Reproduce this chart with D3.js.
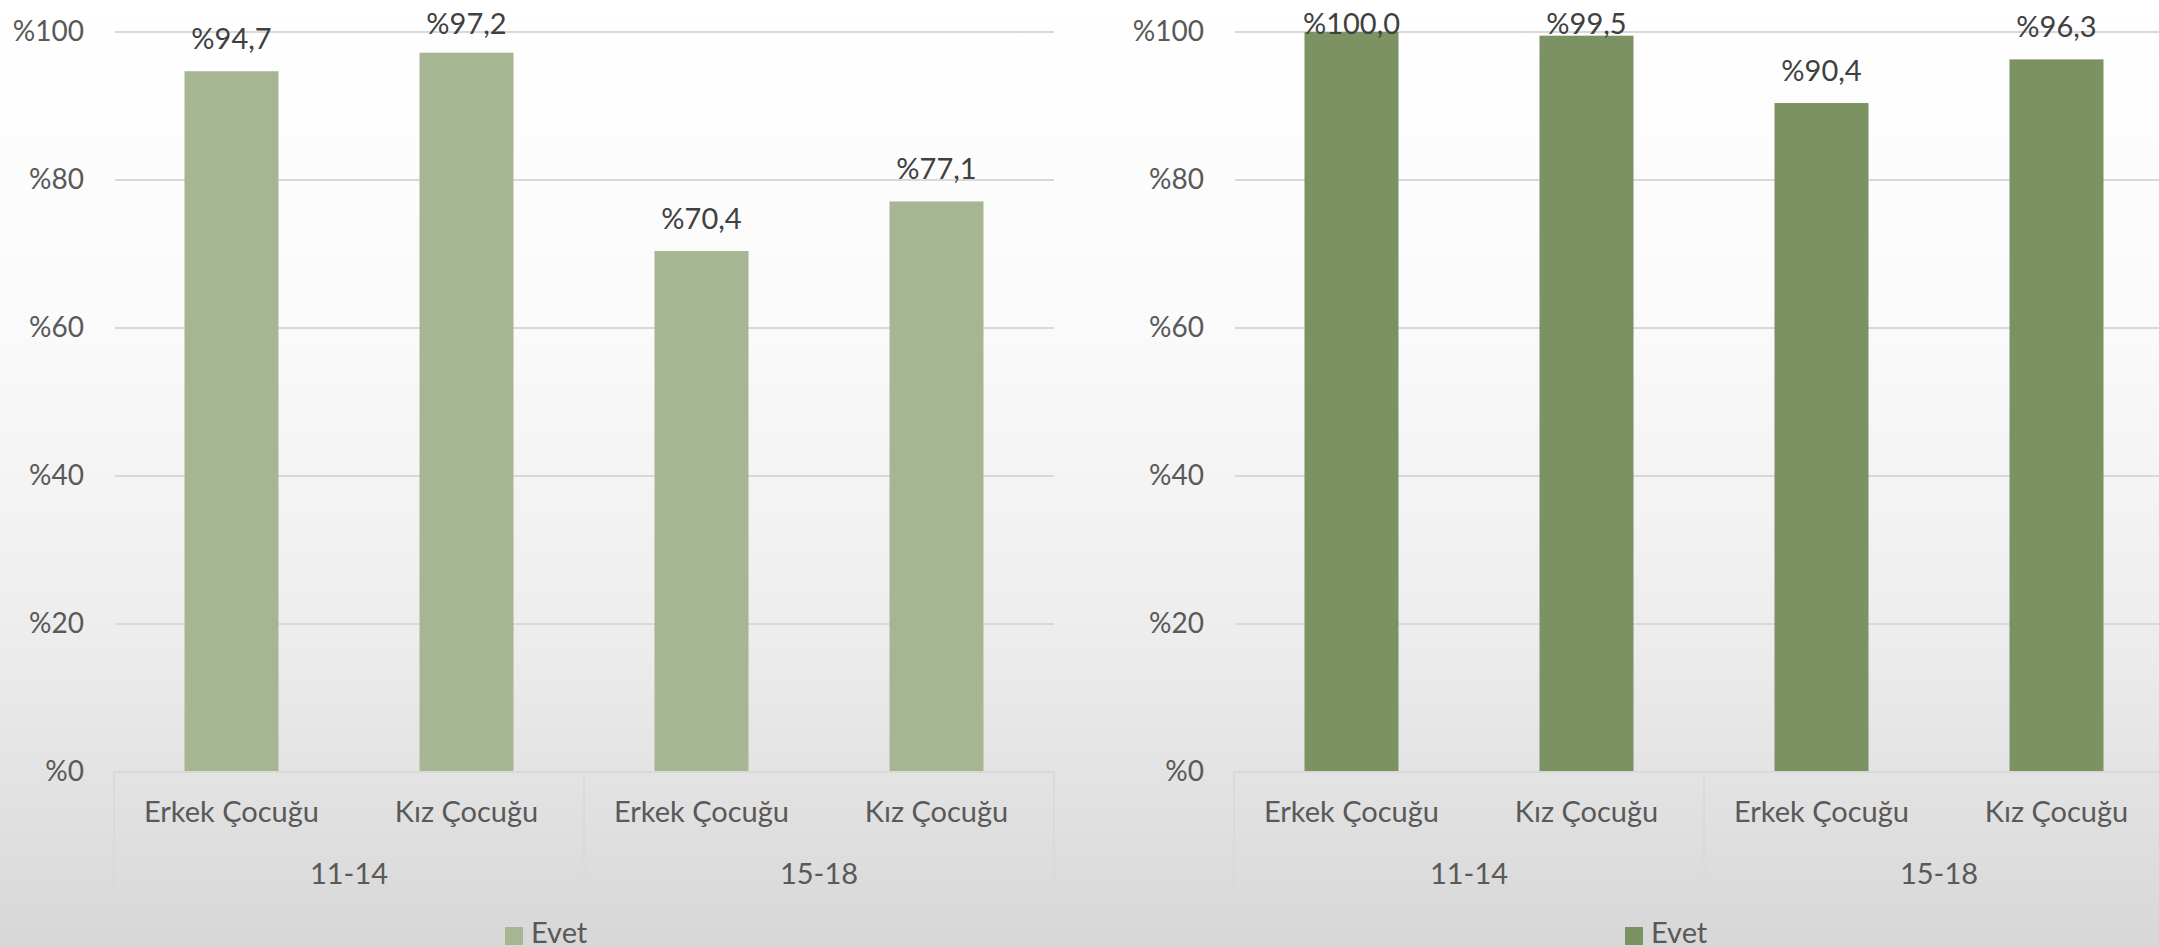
<!DOCTYPE html>
<html>
<head>
<meta charset="utf-8">
<script src="https://cdn.jsdelivr.net/npm/d3@7"></script>
<style>
  html, body { margin: 0; padding: 0; background: #ffffff; }
  svg { display: block; font-family: Lato, "Open Sans", sans-serif; }
</style>
</head>
<body>
<svg width="2159" height="947"></svg>
<script>
// data
var categories = ["Erkek Çocuğu", "Kız Çocuğu", "Erkek Çocuğu", "Kız Çocuğu"];
var groups = ["11-14", "15-18"];
var seriesName = "Evet";
var leftValues = [94.7, 97.2, 70.4, 77.1];
var rightValues = [100.0, 99.5, 90.4, 96.3];
var yTicks = [0, 20, 40, 60, 80, 100];

var svg = d3.select("svg"),
    width = +svg.attr("width"),
    height = +svg.attr("height");

// background gradient
var defs = svg.append("defs");
var grad = defs.append("linearGradient")
    .attr("id", "bg")
    .attr("x1", 0).attr("y1", 0).attr("x2", 0).attr("y2", 1);
grad.append("stop").attr("offset", "0").attr("stop-color", "#ffffff");
grad.append("stop").attr("offset", "0.35").attr("stop-color", "#fafafa");
grad.append("stop").attr("offset", "0.65").attr("stop-color", "#eeeeee");
grad.append("stop").attr("offset", "0.82").attr("stop-color", "#e3e3e3");
grad.append("stop").attr("offset", "1").attr("stop-color", "#d7d7d7");

svg.append("rect")
    .attr("width", width)
    .attr("height", height)
    .attr("fill", "url(#bg)");

var plotW = 940, plotTop = 32, plotBottom = 772, boxBottom = 895;

function fmt(v){
  return "%" + v.toFixed(1).replace(".", ",");
}

function drawChart(left, values, color){
  var g = svg.append("g").attr("transform", "translate(" + left + ",0)");

  var x = d3.scaleBand()
      .domain(d3.range(values.length))
      .range([0, plotW])
      .paddingInner(0.6)
      .paddingOuter(0.3);

  var y = d3.scaleLinear()
      .domain([0, 100])
      .range([plotBottom, plotTop]);

  // gridlines
  g.append("g")
      .selectAll("line")
      .data(yTicks.filter(function(d){ return d > 0; }))
      .enter().append("line")
      .attr("x1", 1)
      .attr("x2", plotW)
      .attr("y1", function(d){ return y(d); })
      .attr("y2", function(d){ return y(d); })
      .attr("stroke", "#d9d9d9")
      .attr("stroke-width", 2);

  // y axis
  var yAxis = g.append("g")
      .call(d3.axisLeft(y)
        .tickValues(yTicks)
        .tickSize(0)
        .tickPadding(30)
        .tickFormat(function(d){ return "%" + d; }));
  yAxis.select(".domain").remove();
  yAxis.selectAll("text")
      .attr("fill", "#595959")
      .style("font-size", "28px")
      .style("font-family", "Lato, sans-serif");

  // bars
  g.append("g")
      .selectAll("rect")
      .data(values)
      .enter().append("rect")
      .attr("x", function(d, i){ return x(i); })
      .attr("y", function(d){ return y(d); })
      .attr("width", x.bandwidth())
      .attr("height", function(d){ return y(0) - y(d); })
      .attr("fill", color);

  // value labels (kept inside the chart area near the top, like Excel does)
  g.append("g")
      .selectAll("text")
      .data(values)
      .enter().append("text")
      .attr("x", function(d, i){ return x(i) + x.bandwidth() / 2; })
      .attr("y", function(d){ return Math.max(y(d) - 22, 34); })
      .attr("text-anchor", "middle")
      .attr("fill", "#404040")
      .style("font-size", "29px")
      .text(fmt);

  // category axis box
  g.append("line")
      .attr("x1", 0).attr("x2", plotW)
      .attr("y1", plotBottom).attr("y2", plotBottom)
      .attr("stroke", "#d9d9d9")
      .attr("stroke-width", 2);

  var groupEdges = [0, plotW / 2, plotW];
  g.append("g")
      .selectAll("line")
      .data(groupEdges)
      .enter().append("line")
      .attr("x1", function(d){ return d; })
      .attr("x2", function(d){ return d; })
      .attr("y1", plotBottom)
      .attr("y2", boxBottom)
      .attr("stroke", "#d9d9d9")
      .attr("stroke-width", 1.5);

  g.append("g")
      .selectAll("text")
      .data(categories)
      .enter().append("text")
      .attr("x", function(d, i){ return x(i) + x.bandwidth() / 2; })
      .attr("y", 822)
      .attr("text-anchor", "middle")
      .attr("fill", "#595959")
      .style("font-size", "29px")
      .text(function(d){ return d; });

  g.append("g")
      .selectAll("text")
      .data(groups)
      .enter().append("text")
      .attr("x", function(d, i){ return (i + 0.5) * (plotW / groups.length); })
      .attr("y", 884)
      .attr("text-anchor", "middle")
      .attr("fill", "#595959")
      .style("font-size", "29px")
      .text(function(d){ return d; });

  // legend
  var legend = g.append("g")
      .attr("transform", "translate(" + (plotW / 2 - 79) + ",927)");
  legend.append("rect")
      .attr("width", 18)
      .attr("height", 18)
      .attr("fill", color);
  legend.append("text")
      .attr("x", 26)
      .attr("y", 16)
      .attr("fill", "#595959")
      .style("font-size", "29px")
      .text(seriesName);
}

drawChart(114, leftValues, "#a6b592");
drawChart(1234, rightValues, "#7c9263");
</script>
</body>
</html>
